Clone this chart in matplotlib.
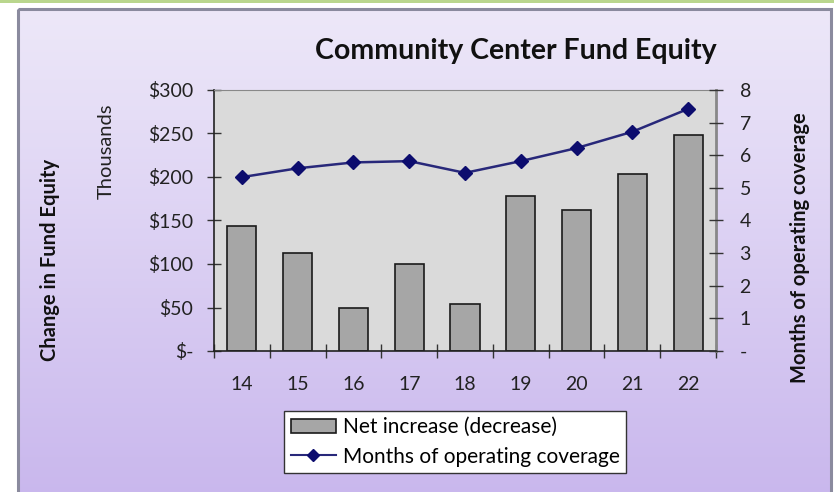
import numpy as np
import matplotlib
matplotlib.use("Agg")
import matplotlib.pyplot as plt
from matplotlib.patches import Rectangle
from matplotlib.lines import Line2D
from matplotlib.ticker import FixedLocator, FuncFormatter

# Fiscal years and series values
years = ["14", "15", "16", "17", "18", "19", "20", "21", "22"]
net_increase = [144, 113, 49, 100, 54, 178, 162, 203, 248]          # $ thousands
months_coverage = [5.33, 5.6, 5.78, 5.82, 5.46, 5.82, 6.22, 6.72, 7.42]

left_ticks = [0, 50, 100, 150, 200, 250, 300]
right_ticks = [0, 1, 2, 3, 4, 5, 6, 7, 8]

FONT = "Lato"
TICK_FS = 14
W, H = 834, 492
fig = plt.figure(figsize=(W / 100, H / 100), dpi=100)
fig.patch.set_facecolor("white")

# Panel background: lavender gradient with a grey frame and a green strip above
bg = fig.add_axes([0, 0, 1, 1], zorder=-10)
bg.set_xlim(0, W)
bg.set_ylim(H, 0)
bg.axis("off")
top = np.array([0.93, 0.91, 0.975])
bot = np.array([0.79, 0.72, 0.93])
t = np.linspace(0, 1, 256)[:, None, None]
grad = top * (1 - t) + bot * t
grad = np.repeat(grad, 2, axis=1)
bg.imshow(grad, extent=[19, 831, H, 9], aspect="auto", interpolation="bilinear", zorder=0)
bg.add_patch(Rectangle((18, 8.5), 813, H, fill=False, edgecolor="#8a8a9e", lw=2.2, zorder=1))
bg.add_patch(Rectangle((0, 0), W, 3, facecolor="#b9d68d", edgecolor="none", zorder=1))

# Main plot area
x0, x1 = 214, 716
y_top, y_bot = 90, 351
ax = fig.add_axes([x0 / W, 1 - y_bot / H, (x1 - x0) / W, (y_bot - y_top) / H])
ax.set_facecolor("#dadada")
x = np.arange(len(years))
ax.bar(x, net_increase, width=0.52, color="#a6a6a6", edgecolor="#1a1a1a", lw=1.2, zorder=2)
ax.set_xlim(-0.5, len(years) - 0.5)
ax.set_ylim(0, 300)

ax.yaxis.set_major_locator(FixedLocator(left_ticks))
ax.yaxis.set_major_formatter(FuncFormatter(lambda v, p: "$-" if v == 0 else f"${int(v)}"))
ax.set_xticks(x)
ax.set_xticklabels(years)
ax.set_xticks(np.arange(-0.5, len(years)), minor=True)
ax.tick_params(axis="x", which="major", length=0, pad=18, labelsize=TICK_FS, labelcolor="#222222")
ax.tick_params(axis="x", which="minor", direction="inout", length=10, width=1, color="#333333")
ax.tick_params(axis="y", direction="inout", length=10, width=1, color="#333333",
               labelsize=TICK_FS, pad=10, labelcolor="#222222")
for lab in ax.get_xticklabels() + ax.get_yticklabels():
    lab.set_fontfamily(FONT)
for side in ["left", "bottom"]:
    ax.spines[side].set_color("#222222")
    ax.spines[side].set_linewidth(1.2)
ax.spines["top"].set_color("#888888")
ax.spines["right"].set_color("#888888")
ax.spines["right"].set_linewidth(2)

# Secondary axis: months of coverage
ax2 = ax.twinx()
ax2.plot(x, months_coverage, color="#28287a", lw=1.8, marker="D", markersize=7,
         markerfacecolor="#0c0c6e", markeredgecolor="#0c0c6e", zorder=3)
ax2.set_ylim(0, 8)
ax2.yaxis.set_major_locator(FixedLocator(right_ticks))
ax2.yaxis.set_major_formatter(FuncFormatter(lambda v, p: "-" if v == 0 else f"{int(v)}"))
ax2.tick_params(axis="y", direction="inout", length=10, width=1, color="#333333",
                labelsize=TICK_FS, pad=12, labelcolor="#222222")
for lab in ax2.get_yticklabels():
    lab.set_fontfamily(FONT)
for sp in ax2.spines.values():
    sp.set_visible(False)

# Titles and axis captions
fig.text(516 / W, 1 - 51 / H, "Community Center Fund Equity", ha="center", va="center",
         fontsize=20.5, fontweight="bold", family=FONT, color="#111111")
fig.text(50 / W, 1 - 260 / H, "Change in Fund Equity", rotation=90, ha="center", va="center",
         fontsize=14.5, fontweight="bold", family=FONT, color="#111111")
fig.text(106 / W, 1 - 151 / H, "Thousands", rotation=90, ha="center", va="center",
         fontsize=14.5, family=FONT, color="#222222")
fig.text(800 / W, 1 - 248 / H, "Months of operating coverage", rotation=90, ha="center",
         va="center", fontsize=14.5, fontweight="bold", family=FONT, color="#111111")

# Legend
handles = [
    Rectangle((0, 0), 1, 1, facecolor="#a6a6a6", edgecolor="#1a1a1a", lw=1.2),
    Line2D([], [], color="#28287a", lw=1.5, marker="D", markersize=6,
           markerfacecolor="#0c0c6e", markeredgecolor="#0c0c6e"),
]
leg = fig.legend(handles, ["Net increase (decrease)", "Months of operating coverage"],
                 loc="center", bbox_to_anchor=(455 / W, 1 - 442 / H),
                 prop={"family": FONT, "size": 15}, frameon=True, fancybox=False,
                 edgecolor="#333333", facecolor="white", framealpha=1,
                 handlelength=2.2, handletextpad=0.3, borderpad=0.3, borderaxespad=0,
                 labelspacing=0.45)
leg.get_frame().set_linewidth(1.0)

fig.savefig("out.png", dpi=100)
